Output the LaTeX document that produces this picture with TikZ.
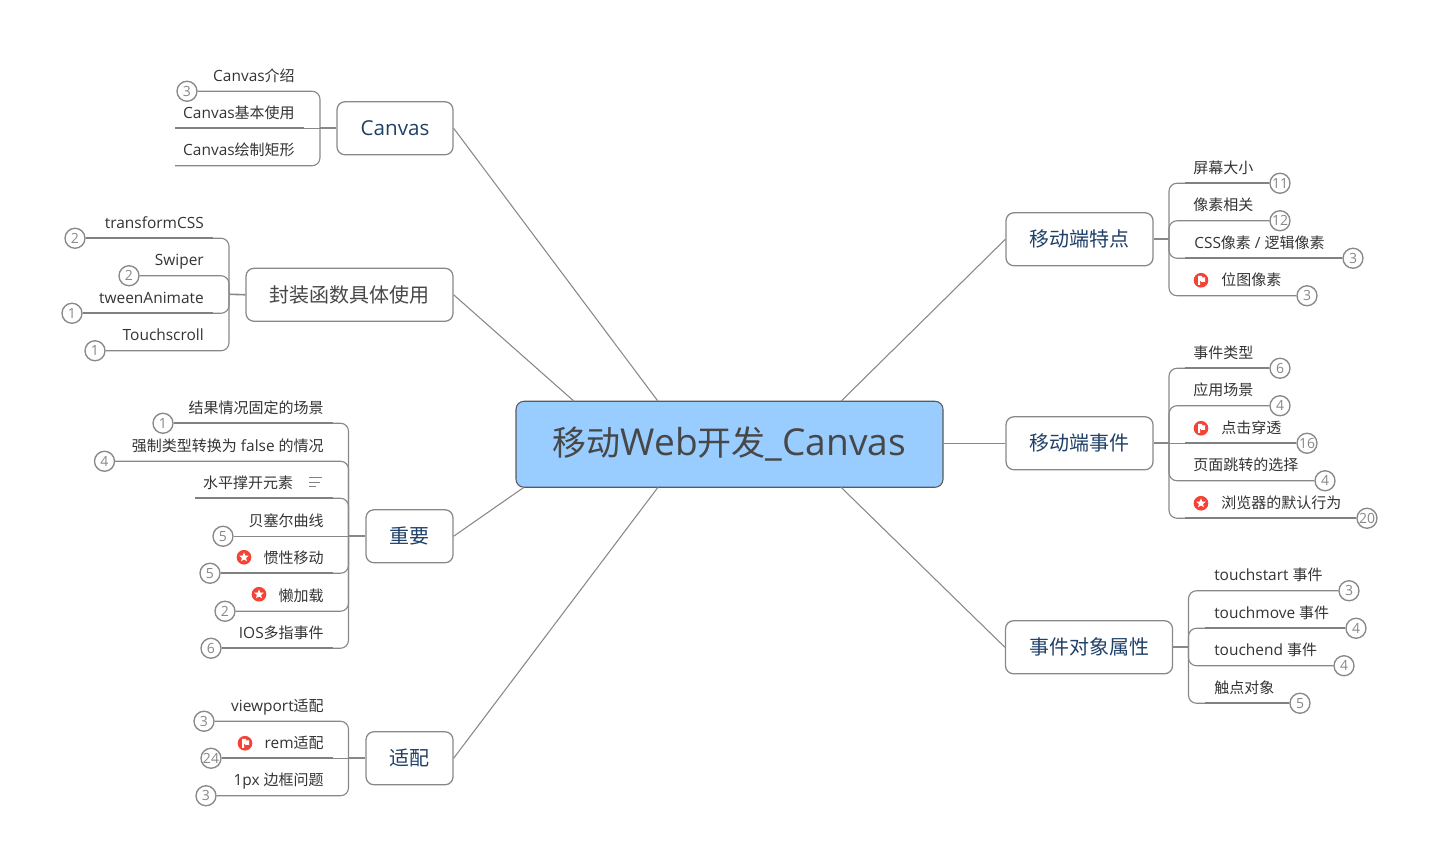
\documentclass[tikz,border=0pt]{standalone}
\usepackage{fontspec}
\usetikzlibrary{calc,shapes.geometric}
\setmainfont{Open Sans}[Scale=1.03]
\newfontfamily\cjk{Noto Sans CJK SC}
\newcommand{\C}[1]{{\cjk #1}}
\newcommand{\Cr}[1]{{\fontsize{25.5}{30}\selectfont\cjk #1}}
\newcommand{\Dn}[1]{\raisebox{-0.6pt}{#1}}
\definecolor{linec}{HTML}{888888}
\definecolor{txt}{HTML}{333333}
\definecolor{navy}{HTML}{1F4068}
\definecolor{redc}{HTML}{F44336}
\definecolor{rootc}{HTML}{99CCFF}
\tikzset{
  conn/.style={draw=linec,line width=0.85pt,rounded corners=6pt},
  straight/.style={conn/.append style={sharp corners}},
  under/.style={draw=linec!95!black,line width=1.4pt},
  stub/.style={draw=linec,line width=1.2pt},
  spoke/.style={draw=linec,line width=0.8pt},
  topbox/.style={draw=linec,line width=0.95pt,rounded corners=6pt,fill=white,minimum height=39.75pt,inner sep=0pt,text=navy,font=\fontsize{15}{18}\selectfont},
  rootbox/.style={draw=black!65,line width=0.8pt,rounded corners=6pt,fill=rootc,minimum width=320.25pt,minimum height=64.5pt,inner sep=0pt,text=black!72,font=\fontsize{27}{30}\selectfont},
  badge/.style={circle,draw=linec,line width=1pt,fill=white,minimum size=15pt,inner sep=0pt,text=linec,font=\fontsize{10.2}{11}\selectfont},
  leaftext/.style={inner sep=0pt,text=txt,font=\fontsize{11.25}{13}\selectfont},
  redmark/.style={circle,fill=redc,minimum size=11pt,inner sep=0pt},
  whitestar/.style={star,star points=5,star point ratio=2.3,fill=white,minimum size=7.5pt,inner sep=0pt},
  x=0.75pt,y=-0.75pt
}
% left leaf with badge: id, trunk, y, badge x, number, text x, text
\newcommand{\LB}[7]{%
  \node[badge] (#1b) at (#4,#3) {#5};
  \node[leaftext,anchor=base east] (#1) at (#6,#3-10) {#7};
  \draw[conn] (#1b.east) -| (#2);
}
% left leaf without badge: id, trunk, y, start x, text x, text
\newcommand{\LN}[6]{%
  \coordinate (#1b) at (#4,#3);
  \node[leaftext,anchor=base east] (#1) at (#5,#3-10) {#6};
  \draw[conn] (#1b) -| (#2);
}
% right leaf with badge
\newcommand{\RB}[7]{%
  \node[badge] (#1b) at (#4,#3) {#5};
  \node[leaftext,anchor=base west] (#1) at (#6,#3-10) {#7};
  \draw[conn] (#1b.west) -| (#2);
}
% darker stretch of a leaf line: start point, trunk, offset
\newcommand{\UL}[3]{\draw[under] (#1) -- ($(#1 -| #2)+(#3,0)$);}
\newcommand{\flagmark}[3]{%
  \node[redmark] (#1) at (#2,#3) {};
  \fill[white] ([shift={(-3,-4.5)}]#1.center) -- ++(4,0) -- ++(0,1.5) -- ++(3,0) -- ++(0,4.5) -- ++(-4,0) -- ++(0,-1) -- ++(-1,0) -- ++(0,4) -- ++(-2,0) -- cycle;
}
\newcommand{\starmark}[3]{%
  \node[redmark] (#1) at (#2,#3) {};
  \node[whitestar] (#1s) at (#1.center) {};
}
\begin{document}
\begin{tikzpicture}
\useasboundingbox (0,-0.25) rectangle (1440,857.75);
\node[rootbox] (main) at (729.5,444) {\Dn{\Cr{移动}Web\Cr{开发}\_Canvas}};
\coordinate (m1) at (658,401);
\coordinate (m2) at (574,401);
\coordinate (m3) at (524,487);
\coordinate (m4) at (658,487);
\coordinate (m5) at (841,401);
\coordinate (m6) at (841,487);

\node[topbox,minimum width=87pt] (canvas) at (395,128) {Canvas};
\node[topbox,minimum width=155.25pt,text=black!72] (fengzhuang) at (349.5,294.5) {\C{封装函数具体使用}};
\node[topbox,minimum width=65.25pt] (zhongyao) at (409.5,536) {\Dn{\C{重要}}};
\node[topbox,minimum width=65.25pt] (shipei) at (409.5,758) {\C{适配}};
\node[topbox,minimum width=110.25pt] (tedian) at (1079.5,239) {\Dn{\C{移动端特点}}};
\node[topbox,minimum width=110.25pt] (shijian) at (1079.5,443) {\Dn{\C{移动端事件}}};
\node[topbox,minimum width=125.25pt] (shuxing) at (1089,647) {\C{事件对象属性}};

\draw[spoke] (canvas.east) -- (m1);
\draw[spoke] (fengzhuang.east) -- (m2);
\draw[spoke] (zhongyao.east) -- (m3);
\draw[spoke] (shipei.east) -- (m4);
\draw[spoke] (tedian.west) -- (m5);
\draw[spoke] (shijian.west) -- (shijian.west -| main.east);
\draw[spoke] (shuxing.west) -- (m6);

% Canvas
\coordinate (tA) at (320,128);
\draw[stub] (canvas.west) -- (tA);
\LB{a1}{tA}{91}{187}{3}{295}{Canvas\C{介绍}}
\begin{scope}[straight]
\LN{a2}{tA}{128}{175}{295}{Canvas\C{基本使用}}
\end{scope}
\LN{a3}{tA}{165.5}{175}{295}{Canvas\C{绘制矩形}}
\UL{a2b}{tA}{-16}

% fengzhuang
\coordinate (tB) at (229,294);
\draw[stub] (fengzhuang.west) -- (tB);
\LB{b1}{tB}{238}{75}{2}{204}{transformCSS}
\LB{b2}{tB}{275.5}{129}{2}{204}{Swiper}
\LB{b3}{tB}{313}{72}{1}{204}{tweenAnimate}
\LB{b4}{tB}{350.5}{95}{1}{204}{Touchscroll}
\UL{b1b.east}{tB}{-16}
\UL{b3b.east}{tB}{-16}

% zhongyao
\coordinate (tC) at (348.5,536);
\draw[stub] (zhongyao.west) -- (tC);
\LB{c1}{tC}{423}{163}{1}{324}{\C{结果情况固定的场景}}
\LB{c2}{tC}{461}{104.5}{4}{324}{\C{强制类型转换为} false \C{的情况}}
\LN{c3}{tC}{498}{195}{293.5}{\C{水平撑开元素}}
\begin{scope}[straight]
\LB{c4}{tC}{536}{223}{5}{324}{\C{贝塞尔曲线}}
\end{scope}
\LB{c5}{tC}{573}{210}{5}{324}{\C{惯性移动}}
\LB{c6}{tC}{611}{225}{2}{324}{\C{懒加载}}
\LB{c7}{tC}{648}{211}{6}{324}{IOS\C{多指事件}}
\UL{c1b.east}{tC}{-16}
\UL{c3b}{tC}{-16}
\UL{c5b.east}{tC}{-16}
\UL{c7b.east}{tC}{-16}
\starmark{c5m}{244}{557}
\starmark{c6m}{259}{594}
\draw[under,line width=1.1pt] (309,477.5) -- (322,477.5) (309,482) -- (320,482) (309,486.5) -- (316,486.5);

% shipei
\coordinate (tD) at (348.5,758);
\draw[stub] (shipei.west) -- (tD);
\LB{d1}{tD}{721}{204}{3}{324}{viewport\C{适配}}
\begin{scope}[straight]
\LB{d2}{tD}{758}{211}{24}{324}{rem\C{适配}}
\end{scope}
\LB{d3}{tD}{795.5}{206}{3}{324}{1px \C{边框问题}}
\UL{d2b.east}{tD}{-16}
\flagmark{d2m}{245}{743}

% tedian
\coordinate (tE) at (1169,239);
\draw[stub] (tedian.east) -- (tE);
\RB{e1}{tE}{183}{1280}{11}{1193}{\C{屏幕大小}}
\RB{e2}{tE}{220.5}{1280}{12}{1193}{\C{像素相关}}
\RB{e3}{tE}{258}{1353}{3}{1194}{CSS\C{像素} / \C{逻辑像素}}
\RB{e4}{tE}{295.5}{1307}{3}{1221}{\C{位图像素}}
\UL{e1b.west}{tE}{16}
\UL{e3b.west}{tE}{16}
\flagmark{e4m}{1201}{280}

% shijian
\coordinate (tF) at (1169,443);
\draw[stub] (shijian.east) -- (tF);
\RB{f1}{tF}{368}{1280}{6}{1193}{\C{事件类型}}
\RB{f2}{tF}{405.5}{1280}{4}{1193}{\C{应用场景}}
\begin{scope}[straight]
\RB{f3}{tF}{443}{1307}{16}{1221}{\C{点击穿透}}
\end{scope}
\RB{f4}{tF}{480.5}{1325}{4}{1193}{\C{页面跳转的选择}}
\RB{f5}{tF}{518}{1367}{20}{1221}{\C{浏览器的默认行为}}
\UL{f1b.west}{tF}{16}
\UL{f3b.west}{tF}{16}
\UL{f5b.west}{tF}{16}
\flagmark{f3m}{1201}{428}
\starmark{f5m}{1201}{503}

% shuxing
\coordinate (tG) at (1188.5,647);
\draw[stub] (shuxing.east) -- (tG);
\RB{g1}{tG}{590.5}{1349}{3}{1214}{touchstart \C{事件}}
\RB{g2}{tG}{628}{1356}{4}{1214}{touchmove \C{事件}}
\RB{g3}{tG}{665.5}{1344}{4}{1214}{touchend \C{事件}}
\RB{g4}{tG}{703}{1300}{5}{1214}{\C{触点对象}}
\UL{g2b.west}{tG}{16}
\UL{g4b.west}{tG}{16}
\end{tikzpicture}
\end{document}
